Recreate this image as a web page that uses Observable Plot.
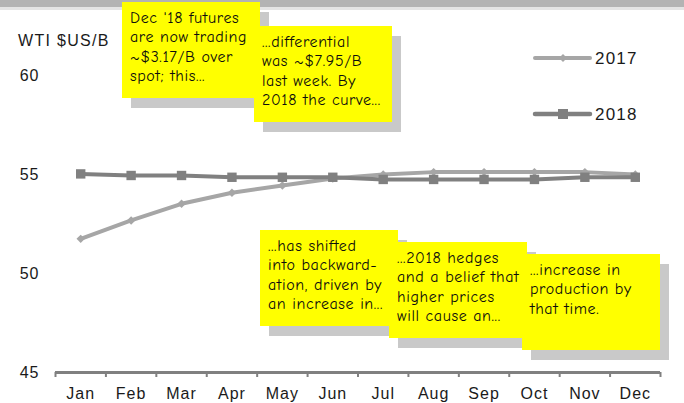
<!DOCTYPE html>
<html><head><meta charset="utf-8">
<script src="https://cdn.jsdelivr.net/npm/d3@7"></script>
<script src="https://cdn.jsdelivr.net/npm/@observablehq/plot@0.6"></script>
<style>
html,body{margin:0;padding:0;background:#fff;}
#wrap{position:relative;width:684px;height:403px;overflow:hidden;font-family:"Liberation Sans",Arial,sans-serif;color:#1a1a1a;}
#wrap svg.plot{position:absolute;left:0;top:0;}
.band{position:absolute;left:0;top:0;width:684px;height:7px;background:#b3b3b3;}
.band2{position:absolute;left:0;top:7px;width:684px;height:3px;background:#e4e4e4;}
.title{position:absolute;left:18px;top:33px;font-size:16px;line-height:16px;letter-spacing:1.3px;white-space:nowrap;}
.note{position:absolute;width:138px;height:96px;}
.note .sh{position:absolute;left:9px;top:10px;width:138px;height:96px;background:#c9c9c9;}
.note .bx{position:absolute;left:0;top:0;width:138px;height:96px;background:#ffff00;box-sizing:border-box;padding:7px 0 0 8px;
  font-family:"Comic Sans MS","Comic Neue","DejaVu Sans",sans-serif;font-size:16px;letter-spacing:0.6px;line-height:19.3px;color:#0d0d0d;white-space:nowrap;}
#legend{position:absolute;left:0;top:0;}
</style></head>
<body>
<div id="wrap"></div>
<script>
const months = ["Jan","Feb","Mar","Apr","May","Jun","Jul","Aug","Sep","Oct","Nov","Dec"];
const wti2017 = [51.75, 52.68, 53.52, 54.08, 54.44, 54.8, 55.0, 55.12, 55.12, 55.12, 55.12, 55.0];
const wti2018 = [55.03, 54.95, 54.95, 54.86, 54.86, 54.86, 54.75, 54.75, 54.75, 54.75, 54.86, 54.86];
const seriesNames = ["2017", "2018"];
const seriesColors = ["#a6a6a6", "#808080"];
const yTicks = [45, 50, 55, 60];
const titleText = "WTI $US/B";
const notes = [
  ["Dec '18 futures", "are now trading", "~$3.17/B over", "spot; this..."],
  ["...differential", "was ~$7.95/B", "last week. By", "2018 the curve..."],
  ["...has shifted", "into backward-", "ation, driven by", "an increase in..."],
  ["...2018 hedges", "and a belief that", "higher prices", "will cause an..."],
  ["...increase in", "production by", "that time."]
];
const notePos = [[122, 2], [254, 26], [260, 230], [389, 242], [522, 254]];

const rows = (vals, name) => vals.map((v, i) => ({month: months[i], pos: i + 0.5, value: v, series: name}));
const d2017 = rows(wti2017, seriesNames[0]);
const d2018 = rows(wti2018, seriesNames[1]);

const chart = Plot.plot({
  width: 684, height: 403,
  marginLeft: 55, marginRight: 24, marginTop: 75, marginBottom: 31,
  x: {domain: [0, 12], axis: null, label: null},
  y: {domain: [45, 60], axis: null, label: null},
  style: {fontFamily: '"Liberation Sans", Arial, sans-serif', fontSize: "16px", letterSpacing: "1px", color: "#1a1a1a", background: "transparent"},
  marks: [
    Plot.axisY({ticks: yTicks, tickSize: 0, tickPadding: 16, fill: "#1a1a1a", label: null}),
    Plot.ruleY([45], {stroke: "#808080", strokeWidth: 3}),
    Plot.axisX({ticks: d3.range(months.length + 1), tickFormat: () => "", tickSize: 5, stroke: "#808080", strokeWidth: 2, label: null}),
    Plot.axisX({ticks: months.map((m, i) => i + 0.5), tickFormat: d => months[Math.floor(d)], tickSize: 0, tickPadding: 15, fill: "#1a1a1a", label: null}),
    Plot.line(d2017, {x: "pos", y: "value", stroke: seriesColors[0], strokeWidth: 4}),
    Plot.dot(d2017, {x: "pos", y: "value", symbol: "diamond2", r: 3.8, fill: seriesColors[0]}),
    Plot.line(d2018, {x: "pos", y: "value", stroke: seriesColors[1], strokeWidth: 4}),
    Plot.dot(d2018, {x: "pos", y: "value", symbol: "square", r: 5.3, fill: seriesColors[1]})
  ]
});
chart.classList.add("plot");

const wrap = document.getElementById("wrap");
wrap.innerHTML = '<div class="band"></div><div class="band2"></div>';
wrap.appendChild(chart);
const t = document.createElement("div"); t.className = "title"; t.textContent = titleText; wrap.appendChild(t);

// legend
const ns = "http://www.w3.org/2000/svg";
const lg = document.createElementNS(ns, "svg");
lg.setAttribute("id", "legend"); lg.setAttribute("width", 684); lg.setAttribute("height", 403);
const legY = [58, 114];
seriesNames.forEach((name, k) => {
  const y = legY[k];
  const ln = document.createElementNS(ns, "line");
  ln.setAttribute("x1", 535); ln.setAttribute("x2", 590); ln.setAttribute("y1", y); ln.setAttribute("y2", y);
  ln.setAttribute("stroke", seriesColors[k]); ln.setAttribute("stroke-width", k ? 4.5 : 4); ln.setAttribute("stroke-linecap", "round");
  lg.appendChild(ln);
  const sym = document.createElementNS(ns, "path");
  sym.setAttribute("d", d3.symbol(k ? d3.symbolSquare : d3.symbolDiamond2, k ? 100 : 40)());
  sym.setAttribute("transform", `translate(563,${y})`);
  sym.setAttribute("fill", seriesColors[k]);
  lg.appendChild(sym);
  const tx = document.createElementNS(ns, "text");
  tx.setAttribute("x", 595); tx.setAttribute("y", y); tx.setAttribute("dy", "0.36em");
  tx.setAttribute("font-size", 17); tx.setAttribute("letter-spacing", "1.2px");
  tx.setAttribute("font-family", '"Liberation Sans", Arial, sans-serif'); tx.setAttribute("fill", "#1a1a1a");
  tx.textContent = name;
  lg.appendChild(tx);
});
wrap.appendChild(lg);

// notes
notes.forEach((lines, k) => {
  const n = document.createElement("div"); n.className = "note";
  n.style.left = notePos[k][0] + "px"; n.style.top = notePos[k][1] + "px";
  const sh = document.createElement("div"); sh.className = "sh";
  const bx = document.createElement("div"); bx.className = "bx";
  lines.forEach((l, j) => { if (j) bx.appendChild(document.createElement("br")); bx.appendChild(document.createTextNode(l)); });
  n.appendChild(sh); n.appendChild(bx);
  wrap.appendChild(n);
});
</script>
</body></html>
